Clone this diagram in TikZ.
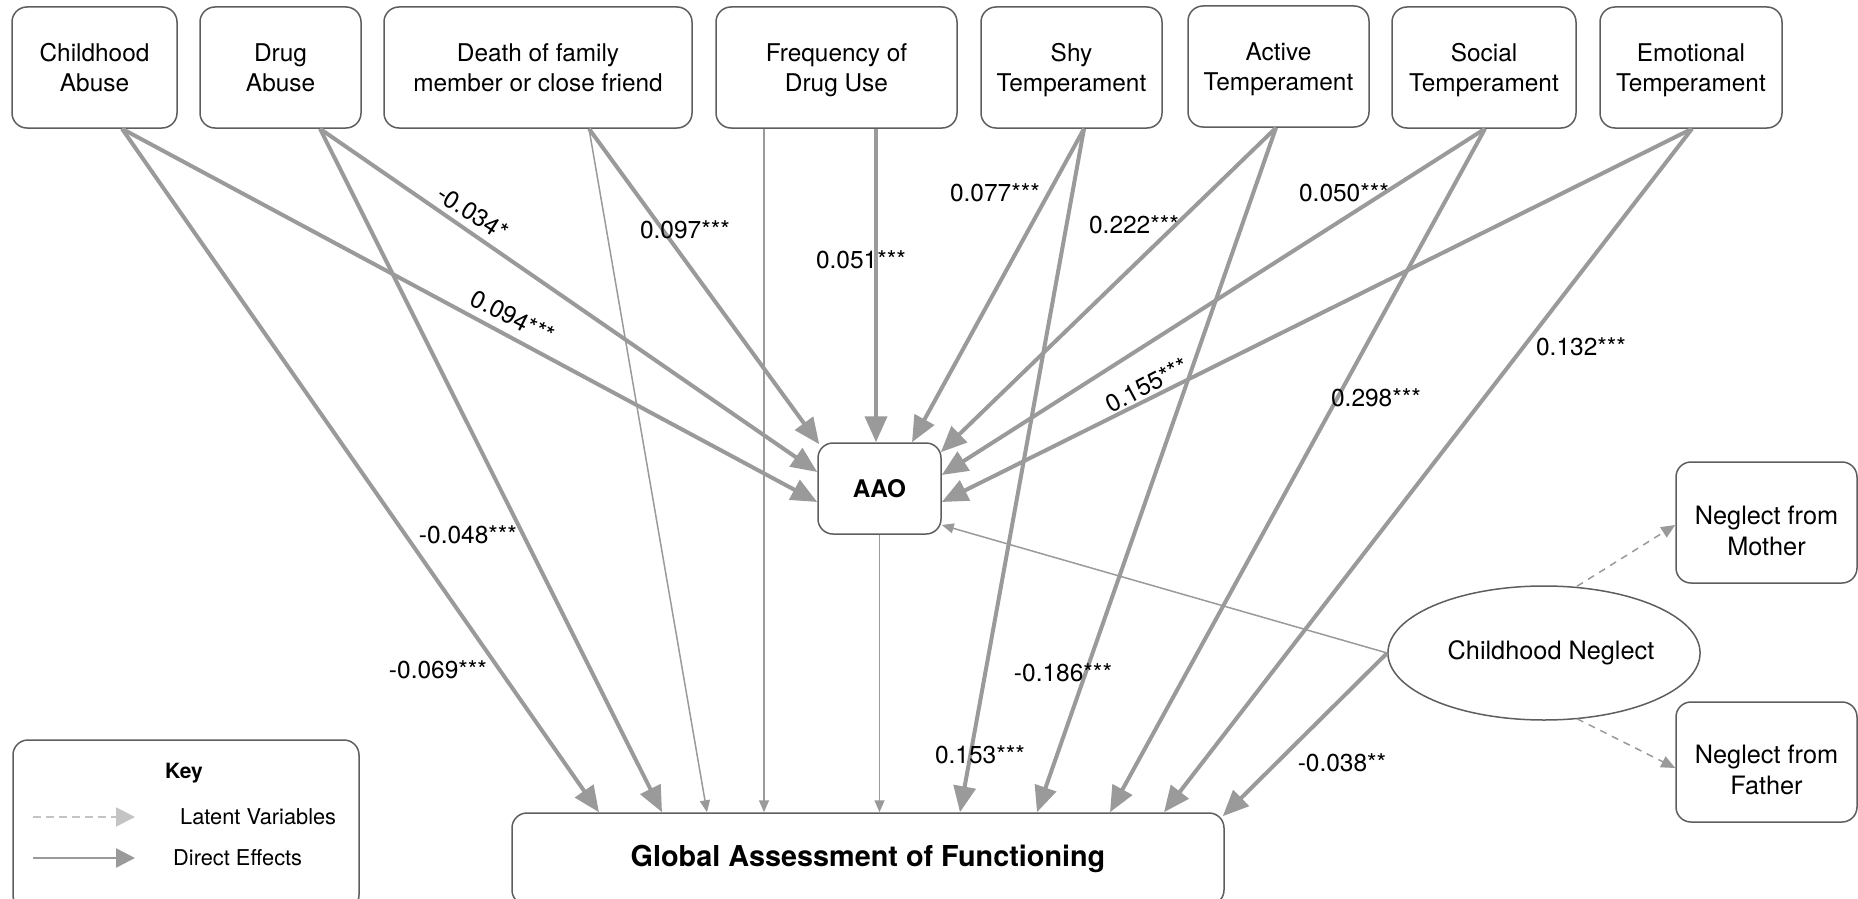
\documentclass[tikz,border=0pt]{standalone}
\usepackage{fontspec}
\setmainfont{TeX Gyre Heros}
\usetikzlibrary{calc}
\usetikzlibrary{arrows.meta}
\usetikzlibrary{shapes.geometric}

\definecolor{linegray}{HTML}{9A9A9A}
\definecolor{boxgray}{HTML}{5E5E5E}
\definecolor{keygray}{HTML}{C4C4C4}

\begin{document}
\begin{tikzpicture}[x=1pt, y=-1pt,
    box/.style={draw=boxgray, line width=1.5pt, rounded corners=15pt, fill=white,
        align=center, inner sep=0pt, font=\fontsize{24.4}{30}\selectfont},
    twoline/.style={text height=49pt, text depth=0pt},
    effect/.style={draw=linegray, line width=4pt, -{Triangle[length=26pt,width=22pt]}},
    weak/.style={draw=linegray, line width=1.5pt, -{Triangle[length=12pt,width=10pt]}},
    latent/.style={draw=linegray, line width=1.5pt, dash pattern=on 7pt off 6pt,
        -{Triangle[length=14pt,width=12pt]}},
    coef/.style={font=\fontsize{24.5}{28}\selectfont, inner sep=0pt}]

        \useasboundingbox (0,0) rectangle (1858,899);

        % Predictors
        \node[box, twoline, minimum width=165pt, minimum height=121pt] (ca) at (94.5,67.5) {Childhood\\Abuse};
        \node[box, twoline, minimum width=161pt, minimum height=121pt] (da) at (280.5,67.5) {Drug\\Abuse};
        \node[box, twoline, minimum width=308pt, minimum height=121pt] (dth) at (538,67.5) {Death of family\\member or close friend};
        \node[box, twoline, minimum width=241pt, minimum height=121pt] (fq) at (836.5,67.5) {Frequency of\\Drug Use};
        \node[box, twoline, minimum width=181pt, minimum height=121pt] (shy) at (1071.5,67.5) {Shy\\Temperament};
        \node[box, twoline, minimum width=181pt, minimum height=121pt] (act) at (1278.5,66.5) {Active\\Temperament};
        \node[box, twoline, minimum width=184pt, minimum height=121pt] (soc) at (1484,67.5) {Social\\Temperament};
        \node[box, twoline, minimum width=182pt, minimum height=121pt] (emo) at (1691,67.5) {Emotional\\Temperament};

        % Outcomes
        \node[box, minimum width=123pt, minimum height=91pt, font=\fontsize{24.3}{28}\selectfont\bfseries] (aao) at (879.5,488.5) {AAO};
        \node[box, minimum width=712pt, minimum height=92pt, font=\fontsize{28.8}{34}\selectfont\bfseries] (gaf) at (868,859) {Global Assessment of Functioning};

        % Latent variable
        \node[ellipse, draw=boxgray, line width=1.5pt, minimum width=262pt, minimum height=134pt,
            inner sep=0pt, font=\fontsize{25.3}{30}\selectfont] (neg) at (1544,653) {\hspace{14pt}Childhood Neglect};
        \node[box, minimum width=181pt, minimum height=121pt, font=\fontsize{25.3}{31}\selectfont,
            text height=65pt, text depth=0pt] (mom) at (1766.5,522.5) {Neglect from\\Mother};
        \node[box, minimum width=181pt, minimum height=120pt, font=\fontsize{25.3}{31}\selectfont,
            text height=65pt, text depth=0pt] (dad) at (1766.5,762) {Neglect from\\Father};

        % Effects on AAO
        \draw[effect] ($(ca.south)+(27.5,0)$) -- ($(aao.west)+(0,13.5)$);
        \draw[effect] ($(da.south)+(39.5,0)$) -- ($(aao.west)+(0,-16.5)$);
        \draw[effect] ($(dth.south)+(51,0)$) -- ($(aao.north west)+(2,2)$);
        \draw[effect] ($(fq.south)+(39.5,0)$) -- ($(aao.north)+(-3.5,0)$);
        \draw[effect] ($(shy.south)+(12.5,0)$) -- ($(aao.north)+(32.5,0)$);
        \draw[effect] ($(act.south)+(-2.5,0)$) -- ($(aao.north east)+(-1,10)$);
        \draw[effect] ($(soc.south)+(1,0)$) -- ($(aao.east)+(0,-13.5)$);
        \draw[effect] ($(emo.south)+(1,0)$) -- ($(aao.east)+(0,13.5)$);
        \draw[weak] (neg.west) -- ($(aao.east)+(0,36.5)$);

        % Effects on GAF
        \draw[effect] ($(ca.south)+(27.5,0)$) -- ($(gaf.north)+(-269,0)$);
        \draw[effect] ($(da.south)+(39.5,0)$) -- ($(gaf.north)+(-206,0)$);
        \draw[weak] ($(dth.south)+(51,0)$) -- ($(gaf.north)+(-161,0)$);
        \draw[weak] ($(fq.south)+(-72.5,0)$) -- ($(gaf.north)+(-104,0)$);
        \draw[weak] (aao.south) -- (aao.south |- gaf.north);
        \draw[effect] ($(shy.south)+(12.5,0)$) -- ($(gaf.north)+(92,0)$);
        \draw[effect] ($(act.south)+(-2.5,0)$) -- ($(gaf.north)+(169,0)$);
        \draw[effect] ($(soc.south)+(1,0)$) -- ($(gaf.north)+(242,0)$);
        \draw[effect] ($(emo.south)+(1,0)$) -- ($(gaf.north)+(296,0)$);
        \draw[effect] (neg.west) -- ($(gaf.north east)+(-2,4)$);

        % Indicators
        \draw[latent] ($(neg.north)+(33,1)$) -- ($(mom.west)+(0,2.5)$);
        \draw[latent] ($(neg.south)+(33,-2)$) -- ($(dad.west)+(0,6)$);

        % Coefficients
        \node[coef, rotate=-33] at (473,213) {-0.034*};
        \node[coef, rotate=-27] at (513,317) {0.094***};
        \node[coef] at (685,230) {0.097***};
        \node[coef] at (861,260) {0.051***};
        \node[coef] at (995,193) {0.077***};
        \node[coef] at (1134,225) {0.222***};
        \node[coef] at (1344,193) {0.050***};
        \node[coef, rotate=28] at (1147,385) {0.155***};
        \node[coef] at (1376,398) {0.298***};
        \node[coef] at (1581,347) {0.132***};
        \node[coef] at (468,535) {-0.048***};
        \node[coef] at (438,670) {-0.069***};
        \node[coef] at (1063,673) {-0.186***};
        \node[coef] at (980,755) {0.153***};
        \node[coef] at (1342,763) {-0.038**};

        % Key
        \node[box, minimum width=346pt, minimum height=170pt] (key) at (186,825) {};
        \node[font=\fontsize{21}{24}\selectfont\bfseries] (keyttl) at (184,773) {Key};
        \coordinate (lat1) at (33,817);
        \coordinate (lat2) at (135,817);
        \coordinate (dir1) at (33,858);
        \coordinate (dir2) at (135,858);
        \draw[draw=keygray, line width=2pt, dash pattern=on 8pt off 5pt, -{Triangle[length=19pt,width=19pt]}] (lat1) -- (lat2);
        \draw[draw=linegray, line width=2.5pt, -{Triangle[length=19pt,width=19pt]}] (dir1) -- (dir2);
        \node[anchor=west, inner sep=0pt, font=\fontsize{21.8}{24}\selectfont] (latlbl) at (180,817) {Latent Variables};
        \node[anchor=west, inner sep=0pt, font=\fontsize{21.8}{24}\selectfont] (dirlbl) at (173,858) {Direct Effects};

\end{tikzpicture}
\end{document}
